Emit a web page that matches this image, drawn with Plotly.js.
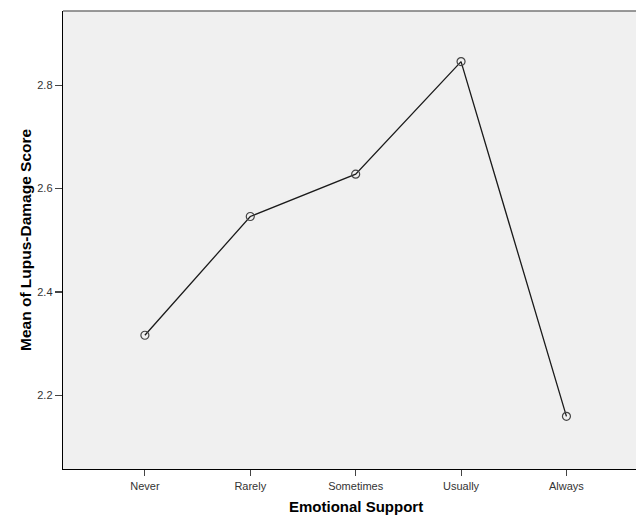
<!DOCTYPE html>
<html>
<head>
<meta charset="utf-8">
<script src="https://cdn.plot.ly/plotly-3.0.1.min.js"></script>
<style>html,body{margin:0;padding:0;background:#fff;}#chart{width:636px;height:517px;}</style>
</head>
<body>
<div id="chart"></div>
<script>
const categories = ["Never", "Rarely", "Sometimes", "Usually", "Always"];
const meanScores = [2.316, 2.546, 2.628, 2.846, 2.159];
const yTickValues = [2.2, 2.4, 2.6, 2.8];
const yTickLabels = ["2.2", "2.4", "2.6", "2.8"];
const xTitle = "Emotional Support";
const yTitle = "Mean of Lupus-Damage Score";

const trace = {
  x: categories,
  y: meanScores,
  type: "scatter",
  mode: "lines+markers",
  line: {color: "#1a1a1a", width: 1.3},
  marker: {symbol: "circle-open", size: 8, color: "#444", line: {color: "#444", width: 1.2}},
  hoverinfo: "skip"
};

const layout = {
  width: 636, height: 517,
  margin: {l: 63, r: 0, t: 11, b: 48},
  paper_bgcolor: "#ffffff",
  plot_bgcolor: "#f0f0f0",
  showlegend: false,
  font: {family: "Liberation Sans, Arial, sans-serif", size: 11, color: "#333"},
  xaxis: {
    type: "category",
    range: [-0.777, 4.66],
    showgrid: false, zeroline: false,
    showline: true, linecolor: "#000", linewidth: 1.3,
    ticks: "outside", ticklen: 6, tickcolor: "#444", tickwidth: 1,
    tickfont: {size: 11, color: "#333"},
    fixedrange: true
  },
  yaxis: {
    range: [2.057, 2.944],
    tickvals: yTickValues, ticktext: yTickLabels,
    showgrid: false, zeroline: false,
    showline: true, linecolor: "#000", linewidth: 1.3,
    ticks: "outside", ticklen: 7, tickcolor: "#444", tickwidth: 1.3,
    tickfont: {size: 11, color: "#333"},
    fixedrange: true
  },
  shapes: [
    {type: "line", xref: "paper", yref: "paper", x0: 0, x1: 1, y0: 1, y1: 1,
     line: {color: "#777", width: 1.5}}
  ],
  annotations: [
    {text: "<b>" + xTitle + "</b>", xref: "paper", yref: "paper",
     x: 0.5113, y: -0.0817, xanchor: "center", yanchor: "middle", showarrow: false,
     font: {size: 15, color: "#000", family: "Liberation Sans, Arial, sans-serif"}},
    {text: "<b>" + yTitle + "</b>", xref: "paper", yref: "paper",
     x: -0.0663, y: 0.5, xanchor: "center", yanchor: "middle", textangle: -90, showarrow: false,
     font: {size: 15.5, color: "#000", family: "Liberation Sans, Arial, sans-serif"}}
  ]
};

Plotly.newPlot("chart", [trace], layout, {displayModeBar: false, staticPlot: true});
</script>
</body>
</html>
